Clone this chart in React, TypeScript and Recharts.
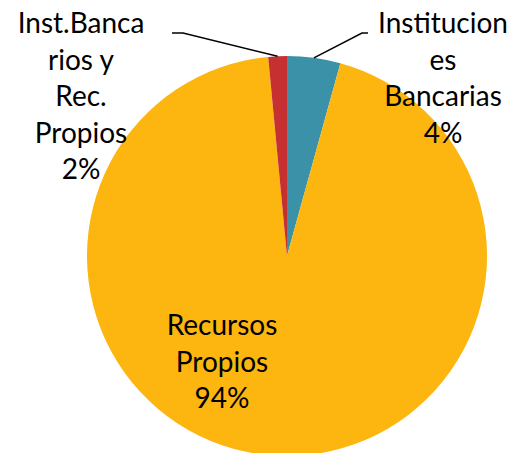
import { PieChart, Pie, Cell } from 'recharts';

const names = ['Instituciones Bancarias', 'Recursos Propios', 'Inst.Bancarios y Rec. Propios'];
const values = [4.3, 94.2, 1.5];
const colors = ['#3A91A8', '#FDB50F', '#C63030'];
// label text broken the way the source wraps it
const labelLines = [
  ['Institucion', 'es', 'Bancarias'],
  ['Recursos', 'Propios'],
  ['Inst.Banca', 'rios y', 'Rec.', 'Propios'],
];

const data = names.map((name, i) => ({ name, value: values[i] }));

// label placement relative to the pie centre: text centre x, first baseline y, leader elbow
const labelPos = [
  { dx: 156, dy: -223, elbow: [75, -223], end: [81, -223] },
  { dx: -65, dy: 79, elbow: null, end: null },
  { dx: -206, dy: -223, elbow: [-104, -223], end: [-115, -223] },
];

const RAD = Math.PI / 180;
const lineH = 36.6;

function renderLabel(props: any) {
  const { cx, cy, midAngle, outerRadius, index, percent } = props;
  const pos = labelPos[index];
  const lines = [...labelLines[index], `${Math.round(percent * 100)}%`];
  const x = cx + pos.dx;
  const y0 = cy + pos.dy;
  let leader = null;
  if (pos.elbow && pos.end) {
    const sx = cx + outerRadius * Math.cos(-midAngle * RAD);
    const sy = cy + outerRadius * Math.sin(-midAngle * RAD);
    leader = (
      <polyline
        points={`${sx},${sy} ${cx + pos.elbow[0]},${cy + pos.elbow[1]} ${cx + pos.end[0]},${cy + pos.end[1]}`}
        fill="none"
        stroke="#000"
        strokeWidth={1.5}
      />
    );
  }
  return (
    <g key={`lbl-${index}`}>
      {leader}
      <text x={x} y={y0} textAnchor="middle" fill="#000" fontSize={28} fontFamily="Lato, sans-serif">
        {lines.map((t, i) => (
          <tspan key={i} x={x} y={y0 + i * lineH}>
            {t}
          </tspan>
        ))}
      </text>
    </g>
  );
}

export default function App() {
  return (
    <div style={{ position: 'absolute', left: 0, top: 0, width: 513, height: 453, background: '#fff' }}>
      <PieChart width={513} height={453} margin={{ top: 0, right: 0, bottom: 0, left: 0 }}>
        <Pie
          data={data}
          dataKey="value"
          cx={287}
          cy={256}
          outerRadius={200}
          startAngle={90}
          endAngle={-270}
          stroke="none"
          label={renderLabel}
          labelLine={false}
          isAnimationActive={false}
        >
          {data.map((d, i) => (
            <Cell key={d.name} fill={colors[i]} />
          ))}
        </Pie>
      </PieChart>
    </div>
  );
}
